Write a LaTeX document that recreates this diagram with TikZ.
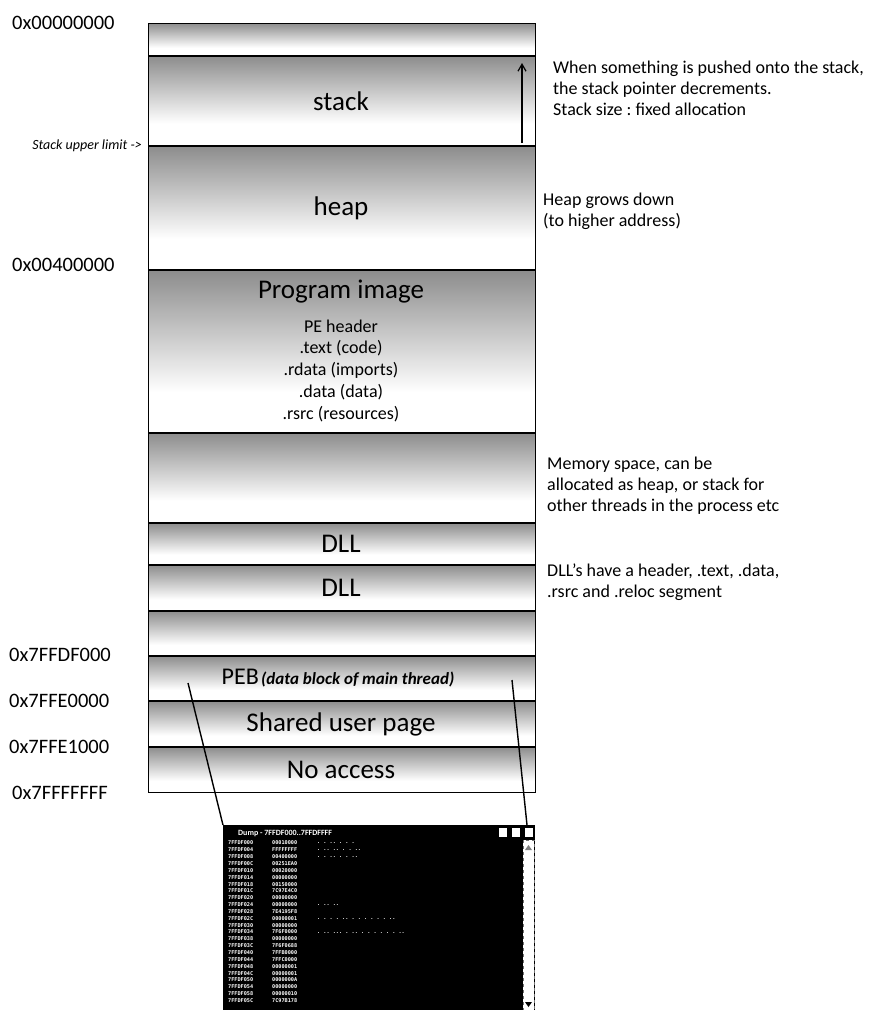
\documentclass[tikz,border=0pt]{standalone}
\usepackage{fontspec}
\setmainfont{Carlito}
\newfontfamily\dumpfont{DejaVu Sans Mono}
\usetikzlibrary{arrows.meta}
\frenchspacing
\begin{document}
\begin{tikzpicture}[x=1pt,y=-1pt,
  addr/.style={anchor=west, inner sep=0pt, font=\fontsize{20.5}{20.5}\selectfont},
  seglabel/.style={inner sep=0pt, font=\fontsize{27}{27}\selectfont},
  sublabel/.style={inner sep=0pt, font=\fontsize{18}{18}\selectfont},
  noteline/.style={anchor=base west, inner sep=0pt, font=\fontsize{18}{18}\selectfont},
  band/.style={top color=black!45, bottom color=white},
  divider/.style={line width=1.3pt},
  leader/.style={line width=1.4pt},
  dumptxt/.style={anchor=west, inner sep=0pt, text=white, font=\dumpfont\bfseries\fontsize{5.2}{5.2}\selectfont},
]
\useasboundingbox (0,0) rectangle (871,1010);

% shaded bands of the address space
\foreach \a/\b in {23/56, 56/146, 146/270, 270/433, 433/523, 523/565, 565/611, 611/656, 656/701, 701/747, 747/792}
  \shade[band] (148,\a) rectangle (535,{\a+0.75*(\b-\a)});
\foreach \y in {56,146,270,433,523,565,611,656,701,747}
  \draw[divider] (148,\y) -- (535,\y);
\node[draw, divider, minimum width=387pt, minimum height=769pt, inner sep=0pt, anchor=north west] (space) at (148,23) {};

% addresses on the left
\node[addr] (a0) at (12,23) {0x00000000};
\node[anchor=east, inner sep=0pt, font=\itshape\fontsize{14}{14}\selectfont] (sul) at (142,146) {Stack upper limit ->};
\node[addr] (a1) at (12,265) {0x00400000};
\node[addr] (a2) at (9,655) {0x7FFDF000};
\node[addr] (a3) at (9,701) {0x7FFE0000};
\node[addr] (a4) at (9,747) {0x7FFE1000};
\node[addr] (a5) at (12,793) {0x7FFFFFFF};

% segment names
\node[seglabel] (stk) at (341,101) {stack};
\node[seglabel] (hp) at (341,208) {heap};
\node[seglabel] (pimg) at (341,292) {Program image};
\node[sublabel] (pe) at (341,326) {PE header};
\node[sublabel] (txt) at (341,348) {.text (code)};
\node[sublabel] (rdat) at (341,370) {.rdata (imports)};
\node[sublabel] (dat) at (341,392) {.data (data)};
\node[sublabel] (rsrc) at (341,414) {.rsrc (resources)};
\node[seglabel] (dll1) at (341,544) {DLL};
\node[seglabel] (dll2) at (341,588) {DLL};
\node[inner sep=0pt] (peb) at (338,678) {{\fontsize{24}{24}\selectfont PEB} {\fontsize{17}{17}\selectfont\bfseries\itshape (data block of main thread)}};
\node[seglabel] (sup) at (341,724) {Shared user page};
\node[seglabel] (noacc) at (341,770) {No access};

% stack growth arrow
\coordinate (sgLow) at (522,143);
\coordinate (sgHigh) at (522,63);
\draw[line width=1.2pt, -{Straight Barb[length=7pt, width=8pt]}] (sgLow) -- (sgHigh);

% notes on the right
\node[noteline] (n1a) at (553,73) {When something is pushed onto the stack,};
\node[noteline] (n1b) at (553,94) {the stack pointer decrements.};
\node[noteline] (n1c) at (553,115) {Stack size : fixed allocation};
\node[noteline] (n2a) at (543,205) {Heap grows down};
\node[noteline] (n2b) at (543,226) {(to higher address)};
\node[noteline] (n3a) at (547,469) {Memory space, can be};
\node[noteline] (n3b) at (547,490) {allocated as heap, or stack for};
\node[noteline] (n3c) at (547,511) {other threads in the process etc};
\node[noteline] (n4a) at (547,576) {DLL's have a header, .text, .data,};
\node[noteline] (n4b) at (547,597) {.rsrc and .reloc segment};

% memory dump window of the PEB
\node[fill=black, minimum width=312pt, minimum height=185pt, inner sep=0pt, anchor=north west] (dump) at (223,825) {};
\node[anchor=west, inner sep=0pt, text=white, font=\bfseries\fontsize{8}{8}\selectfont] (dtitle) at (238,833) {Dump - 7FFDF000..7FFDFFFF};
\fill[white] (499,828) rectangle (507,837);
\fill[white] (512,828) rectangle (520,837);
\fill[white] (525,828) rectangle (533,837);
\node[fill=white, draw=black!55, dashed, minimum width=11pt, minimum height=170pt, inner sep=0pt, anchor=north east] (scroll) at (534,840) {};
\fill[black!50] (525,850) -- (532,850) -- (528.5,845) -- cycle;
\fill[black] (525,1002) -- (532,1002) -- (528.5,1007) -- cycle;

\foreach \o [count=\n] in {00,04,08,0C,10,14,18,1C,20,24,28,2C,30,34,38,3C,40,44,48,4C,50,54,58,5C}
  \node[dumptxt] (ad\n) at (228,{843+(\n-1)*6.85}) {7FFDF0\o};
\foreach \v [count=\n] in {00010000,FFFFFFFF,00400000,00251EA0,00020000,00000000,00150000,7C97E4C0,00000000,00000000,7E4195F8,00000001,00000000,7F6F0000,00000000,7F6F0688,7FFB0000,7FFC0000,00000001,00000001,0000000A,00000000,00000010,7C97B178}
  \node[dumptxt] (vl\n) at (272,{843+(\n-1)*6.85}) {\v};
\node[dumptxt] (as1) at (317,843) {.  .  .. .     .  .};
\node[dumptxt] (as2) at (317,850) {.  ..  .. .  .   ..};
\node[dumptxt] (as3) at (317,857) {.    .   .. .   .  ..};
\node[dumptxt] (as4) at (317,905) {. ..  ..};
\node[dumptxt] (as5) at (317,919) {.   .  .  .   ..  .  .   .  .  .  .  ..};
\node[dumptxt] (as6) at (317,933) {. ..  ...  .   .. .  .  .  .   . .  ..};

% leaders from the PEB to its dump
\coordinate (pebL) at (188,683);
\coordinate (pebR) at (512,680);
\coordinate (dumpR) at (527,825);
\draw[leader] (pebL) -- (dump.north west);
\draw[leader] (pebR) -- (dumpR);
\end{tikzpicture}
\end{document}
